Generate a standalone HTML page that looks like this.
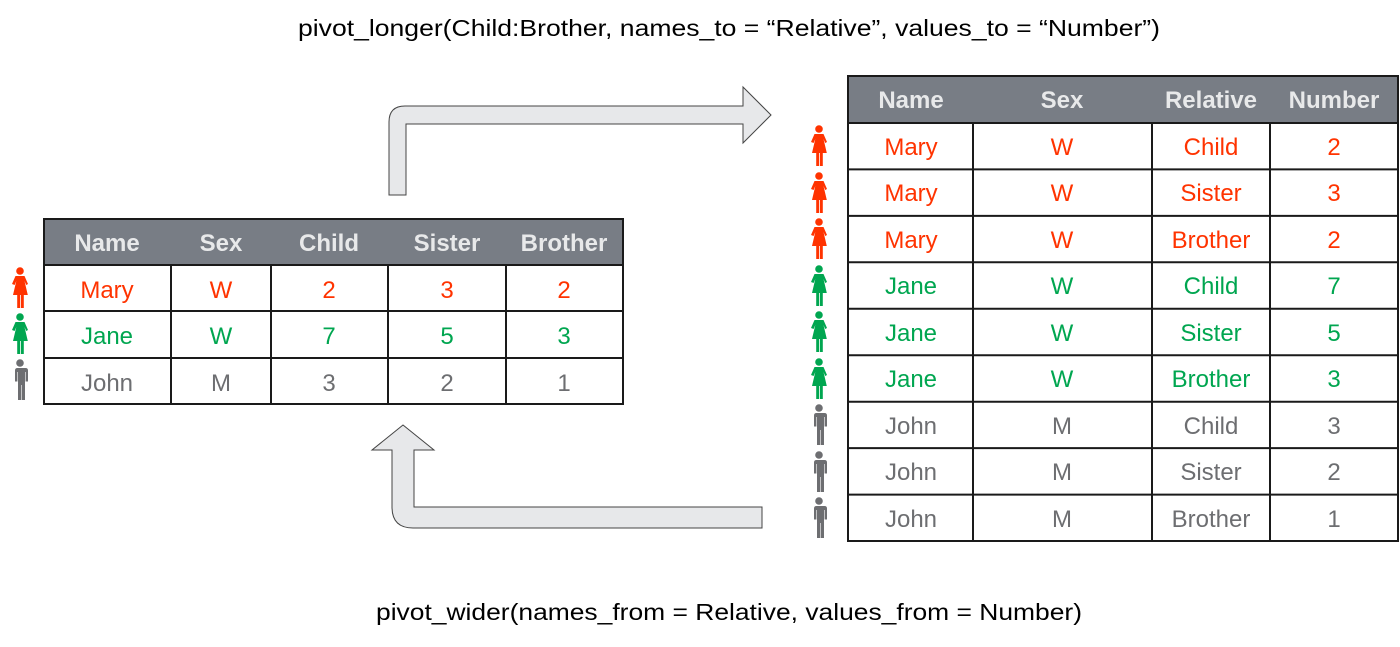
<!DOCTYPE html>
<html><head><meta charset="utf-8"><style>
html,body{margin:0;padding:0;background:#fff;}
svg{display:block;font-family:"Liberation Sans",sans-serif;}
</style></head><body>
<svg width="1400" height="647" viewBox="0 0 1400 647" xmlns="http://www.w3.org/2000/svg">
<defs>
<symbol id="w" viewBox="0 0 20 42"><circle cx="10" cy="4" r="3.8"/><path d="M5.5 9h9l3.5 8-1.8 1-1.7-4 3.3 14h-4v13h-2.8V28h-0.8v13H7.2V28H3l3.3-14-1.7 4L2 17z"/></symbol>
<symbol id="m" viewBox="0 0 20 42"><circle cx="10" cy="4" r="3.8"/><path d="M4.5 9h11q2.5 0 2.5 2.5v11h-2.4V13h-0.6v28h-3.2V26h-0.6v15H8V13h-0.6v9.5H5V11.5q0-2.5 2.5-2.5z"/></symbol>
</defs>

<text x="729" y="36" font-size="23" text-anchor="middle" textLength="862" lengthAdjust="spacingAndGlyphs">pivot_longer(Child:Brother, names_to = “Relative”, values_to = “Number”)</text>
<text x="729" y="620" font-size="23" text-anchor="middle" textLength="706" lengthAdjust="spacingAndGlyphs">pivot_wider(names_from = Relative, values_from = Number)</text>

<path d="M389 195V122q0-16 16-16H743V87l28 28-28 28V124H406v71z" fill="#e7e8ea" stroke="#444" stroke-width="1"/>
<path d="M762 507H414V450h20l-31-25-31 25h20v57q0 21 21 21H762z" fill="#e7e8ea" stroke="#444" stroke-width="1"/>

<g>
<rect x="44" y="219" width="579" height="46" fill="#787d85"/>
<g font-size="24" font-weight="bold" fill="#e8e9ea" text-anchor="middle">
<text x="107" y="251">Name</text><text x="221" y="251">Sex</text><text x="329" y="251">Child</text><text x="447" y="251">Sister</text><text x="564" y="251">Brother</text>
</g>
<rect x="44" y="219" width="579" height="185" fill="none" stroke="#1a1a1a" stroke-width="2"/>
<g stroke="#1a1a1a" stroke-width="2">
<line x1="44" y1="265" x2="623" y2="265"/><line x1="44" y1="311" x2="623" y2="311"/><line x1="44" y1="358" x2="623" y2="358"/>
<line x1="171" y1="265" x2="171" y2="404"/><line x1="271" y1="265" x2="271" y2="404"/><line x1="388" y1="265" x2="388" y2="404"/><line x1="506" y1="265" x2="506" y2="404"/>
</g>
<g font-size="24" text-anchor="middle">
<g fill="#ff3300"><text x="107" y="298">Mary</text><text x="221" y="298">W</text><text x="329" y="298">2</text><text x="447" y="298">3</text><text x="564" y="298">2</text></g>
<g fill="#00a650"><text x="107" y="344">Jane</text><text x="221" y="344">W</text><text x="329" y="344">7</text><text x="447" y="344">5</text><text x="564" y="344">3</text></g>
<g fill="#6d6e71"><text x="107" y="391">John</text><text x="221" y="391">M</text><text x="329" y="391">3</text><text x="447" y="391">2</text><text x="564" y="391">1</text></g>
</g>
<use href="#w" x="9" y="267" width="22" height="42" fill="#ff3300"/>
<use href="#w" x="9" y="313" width="22" height="42" fill="#00a650"/>
<use href="#m" x="9" y="359" width="22" height="42" fill="#6d6e71"/>
</g>

<g>
<rect x="848" y="76" width="550" height="47" fill="#787d85"/>
<g font-size="24" font-weight="bold" fill="#e8e9ea" text-anchor="middle">
<text x="911" y="108">Name</text><text x="1062" y="108">Sex</text><text x="1211" y="108">Relative</text><text x="1334" y="108">Number</text>
</g>
<rect x="848" y="76" width="550" height="465" fill="none" stroke="#1a1a1a" stroke-width="2"/>
<g stroke="#1a1a1a" stroke-width="2">
<line x1="848" y1="123" x2="1398" y2="123"/>
<line x1="848" y1="169.4" x2="1398" y2="169.4"/><line x1="848" y1="215.9" x2="1398" y2="215.9"/><line x1="848" y1="262.3" x2="1398" y2="262.3"/>
<line x1="848" y1="308.8" x2="1398" y2="308.8"/><line x1="848" y1="355.2" x2="1398" y2="355.2"/><line x1="848" y1="401.7" x2="1398" y2="401.7"/>
<line x1="848" y1="448.1" x2="1398" y2="448.1"/><line x1="848" y1="494.6" x2="1398" y2="494.6"/>
<line x1="973" y1="123" x2="973" y2="541"/><line x1="1152" y1="123" x2="1152" y2="541"/><line x1="1270" y1="123" x2="1270" y2="541"/>
</g>
<g font-size="24" text-anchor="middle">
<g fill="#ff3300">
<text x="911" y="155">Mary</text><text x="1062" y="155">W</text><text x="1211" y="155">Child</text><text x="1334" y="155">2</text>
<text x="911" y="201">Mary</text><text x="1062" y="201">W</text><text x="1211" y="201">Sister</text><text x="1334" y="201">3</text>
<text x="911" y="248">Mary</text><text x="1062" y="248">W</text><text x="1211" y="248">Brother</text><text x="1334" y="248">2</text>
</g>
<g fill="#00a650">
<text x="911" y="294">Jane</text><text x="1062" y="294">W</text><text x="1211" y="294">Child</text><text x="1334" y="294">7</text>
<text x="911" y="341">Jane</text><text x="1062" y="341">W</text><text x="1211" y="341">Sister</text><text x="1334" y="341">5</text>
<text x="911" y="387">Jane</text><text x="1062" y="387">W</text><text x="1211" y="387">Brother</text><text x="1334" y="387">3</text>
</g>
<g fill="#6d6e71">
<text x="911" y="434">John</text><text x="1062" y="434">M</text><text x="1211" y="434">Child</text><text x="1334" y="434">3</text>
<text x="911" y="480">John</text><text x="1062" y="480">M</text><text x="1211" y="480">Sister</text><text x="1334" y="480">2</text>
<text x="911" y="527">John</text><text x="1062" y="527">M</text><text x="1211" y="527">Brother</text><text x="1334" y="527">1</text>
</g>
</g>
<g>
<use href="#w" x="808" y="125" width="22" height="42" fill="#ff3300"/>
<use href="#w" x="808" y="172" width="22" height="42" fill="#ff3300"/>
<use href="#w" x="808" y="218" width="22" height="42" fill="#ff3300"/>
<use href="#w" x="808" y="265" width="22" height="42" fill="#00a650"/>
<use href="#w" x="808" y="311" width="22" height="42" fill="#00a650"/>
<use href="#w" x="808" y="358" width="22" height="42" fill="#00a650"/>
<use href="#m" x="808" y="404" width="22" height="42" fill="#6d6e71"/>
<use href="#m" x="808" y="451" width="22" height="42" fill="#6d6e71"/>
<use href="#m" x="808" y="497" width="22" height="42" fill="#6d6e71"/>
</g>
</g>
</svg>
</body></html>
